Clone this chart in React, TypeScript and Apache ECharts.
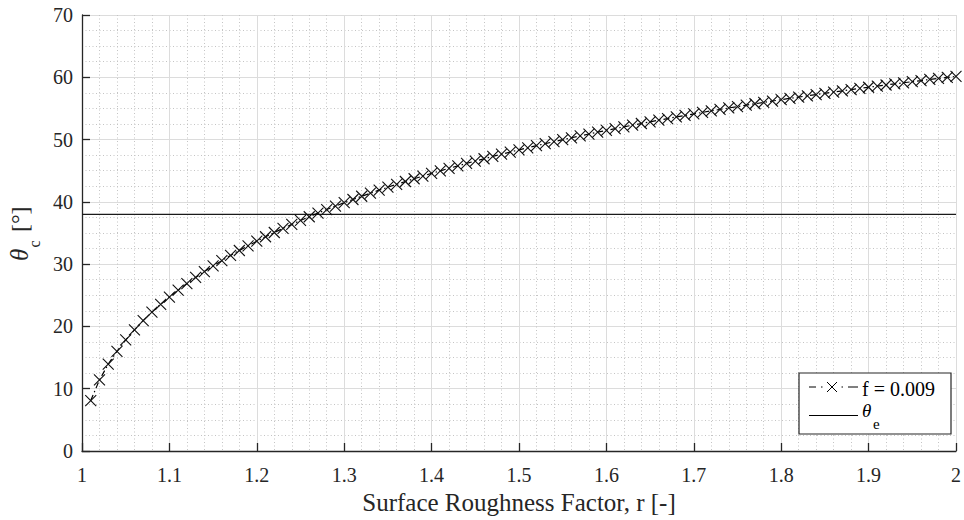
import React, { useEffect, useRef } from "react";
import * as echarts from "echarts";

const roughness = [
  1.01, 1.02, 1.03, 1.04, 1.05, 1.06, 1.07, 1.08, 1.09, 1.1,
  1.11, 1.12, 1.13, 1.14, 1.15, 1.16, 1.17, 1.18, 1.19, 1.2,
  1.21, 1.22, 1.23, 1.24, 1.25, 1.26, 1.27, 1.28, 1.29, 1.3,
  1.31, 1.32, 1.33, 1.34, 1.35, 1.36, 1.37, 1.38, 1.39, 1.4,
  1.41, 1.42, 1.43, 1.44, 1.45, 1.46, 1.47, 1.48, 1.49, 1.5,
  1.51, 1.52, 1.53, 1.54, 1.55, 1.56, 1.57, 1.58, 1.59, 1.6,
  1.61, 1.62, 1.63, 1.64, 1.65, 1.66, 1.67, 1.68, 1.69, 1.7,
  1.71, 1.72, 1.73, 1.74, 1.75, 1.76, 1.77, 1.78, 1.79, 1.8,
  1.81, 1.82, 1.83, 1.84, 1.85, 1.86, 1.87, 1.88, 1.89, 1.9,
  1.91, 1.92, 1.93, 1.94, 1.95, 1.96, 1.97, 1.98, 1.99, 2.0,
];

const thetaC = [
  8.10, 11.41, 13.93, 16.01, 17.83, 19.46, 20.94, 22.30, 23.55, 24.72,
  25.83, 26.88, 27.87, 28.81, 29.71, 30.57, 31.40, 32.19, 32.95, 33.69,
  34.40, 35.08, 35.74, 36.39, 37.01, 37.61, 38.20, 38.77, 39.32, 39.86,
  40.38, 40.90, 41.39, 41.88, 42.35, 42.82, 43.27, 43.71, 44.14, 44.57,
  44.98, 45.39, 45.78, 46.17, 46.55, 46.92, 47.29, 47.65, 48.00, 48.35,
  48.68, 49.02, 49.34, 49.66, 49.98, 50.29, 50.59, 50.89, 51.19, 51.48,
  51.76, 52.04, 52.31, 52.58, 52.85, 53.11, 53.37, 53.63, 53.88, 54.12,
  54.37, 54.61, 54.84, 55.08, 55.30, 55.53, 55.75, 55.97, 56.19, 56.41,
  56.62, 56.82, 57.03, 57.23, 57.43, 57.63, 57.83, 58.02, 58.21, 58.40,
  58.58, 58.76, 58.95, 59.12, 59.30, 59.47, 59.65, 59.82, 59.98, 60.15,
];

const thetaE = 38;
const xRange = [1, 2];
const yRange = [0, 70];
const seriesName = "f = 0.009";
const xTitle = "Surface Roughness Factor, r [-]";

const FONT = "Liberation Serif";
const INK = "#262626";
const DASHDOT = [6, 3, 1.5, 3];

function txt(
  x: number,
  y: number,
  text: string,
  size: number,
  italic = false
) {
  return {
    type: "text",
    x,
    y,
    z: 100,
    style: {
      text,
      fontFamily: FONT,
      fontSize: size,
      fontStyle: italic ? "italic" : "normal",
      fill: "#000",
      verticalAlign: "middle",
      textAlign: "left",
    },
  };
}

function seg(x1: number, y1: number, x2: number, y2: number, w = 1) {
  return {
    type: "line",
    z: 101,
    shape: { x1, y1, x2, y2 },
    style: { stroke: "#000", lineWidth: w },
  };
}

export default function App() {
  const ref = useRef<HTMLDivElement>(null);

  useEffect(() => {
    if (!ref.current) return;
    const chart = echarts.init(ref.current, null, { renderer: "svg" });

    const legend = {
      type: "group",
      z: 100,
      children: [
        {
          type: "rect",
          z: 99,
          shape: { x: 799, y: 373, width: 152, height: 61 },
          style: { fill: "#fff", stroke: INK, lineWidth: 1.2 },
        },
        seg(809, 387, 816, 387),
        seg(821, 387, 822.5, 387),
        seg(827, 382, 837, 392),
        seg(837, 382, 827, 392),
        seg(841.5, 387, 843, 387),
        seg(848, 387, 858, 387),
        txt(862, 389, seriesName, 20),
        seg(809, 415.5, 858, 415.5),
        txt(862, 410.5, "θ", 19, true),
        txt(873, 424, "e", 15),
      ],
    };

    // rotated y-axis title: θ_c [°]
    const yTitle = {
      type: "group",
      x: 28,
      y: 261,
      rotation: Math.PI / 2,
      children: [
        { ...txt(0, -8.4, "θ", 25, true) },
        { ...txt(13.5, 6.6, "c", 16) },
        { ...txt(29, -8.1, "[°]", 24) },
      ],
    };
    yTitle.children.forEach((c: any) => (c.style.fill = INK));

    chart.setOption({
      animation: false,
      backgroundColor: "#fff",
      grid: { left: 82, right: 7, top: 15, bottom: 69, containLabel: false },
      xAxis: {
        type: "value",
        min: xRange[0],
        max: xRange[1],
        interval: 0.1,
        name: xTitle,
        nameLocation: "middle",
        nameGap: 32,
        nameTextStyle: { fontFamily: FONT, fontSize: 25, color: INK },
        axisLine: { show: true, onZero: false, lineStyle: { color: INK, width: 1.3 } },
        axisTick: { show: true, inside: true, length: 8, lineStyle: { color: INK, width: 1.3 } },
        axisLabel: {
          fontFamily: FONT,
          fontSize: 20,
          color: INK,
          margin: 14,
          formatter: (v: number) => String(+v.toFixed(1)),
        },
        splitLine: { show: true, lineStyle: { color: "#dcdcdc", width: 1 } },
        minorTick: { show: false, splitNumber: 5 },
        minorSplitLine: { show: true, lineStyle: { color: "#c4c4c4", width: 1, type: [1, 2.5] } },
      },
      yAxis: {
        type: "value",
        min: yRange[0],
        max: yRange[1],
        interval: 10,
        axisLine: { show: true, onZero: false, lineStyle: { color: INK, width: 1.3 } },
        axisTick: { show: true, inside: true, length: 8, lineStyle: { color: INK, width: 1.3 } },
        axisLabel: { fontFamily: FONT, fontSize: 20, color: INK, margin: 9 },
        splitLine: { show: true, lineStyle: { color: "#dcdcdc", width: 1 } },
        minorTick: { show: false, splitNumber: 4 },
        minorSplitLine: { show: true, lineStyle: { color: "#c4c4c4", width: 1, type: [1, 2.5] } },
      },
      series: [
        {
          name: "θe",
          type: "line",
          data: [
            [xRange[0], thetaE],
            [xRange[1], thetaE],
          ],
          showSymbol: false,
          symbol: "none",
          lineStyle: { color: "#1a1a1a", width: 1.3 },
          z: 3,
        },
        {
          name: seriesName,
          type: "line",
          data: roughness.map((r, i) => [r, thetaC[i]]),
          symbol: "path://M0,0L10,10M10,0L0,10",
          symbolSize: 11,
          itemStyle: { color: "rgba(0,0,0,0)", borderColor: "#111", borderWidth: 1.1 },
          lineStyle: { color: "#000", width: 1.2, type: DASHDOT },
          z: 4,
        },
      ],
      graphic: [yTitle, legend],
    });

    return () => chart.dispose();
  }, []);

  return (
    <div
      ref={ref}
      style={{ position: "fixed", left: 0, top: 0, width: 964, height: 520, background: "#fff" }}
    />
  );
}
